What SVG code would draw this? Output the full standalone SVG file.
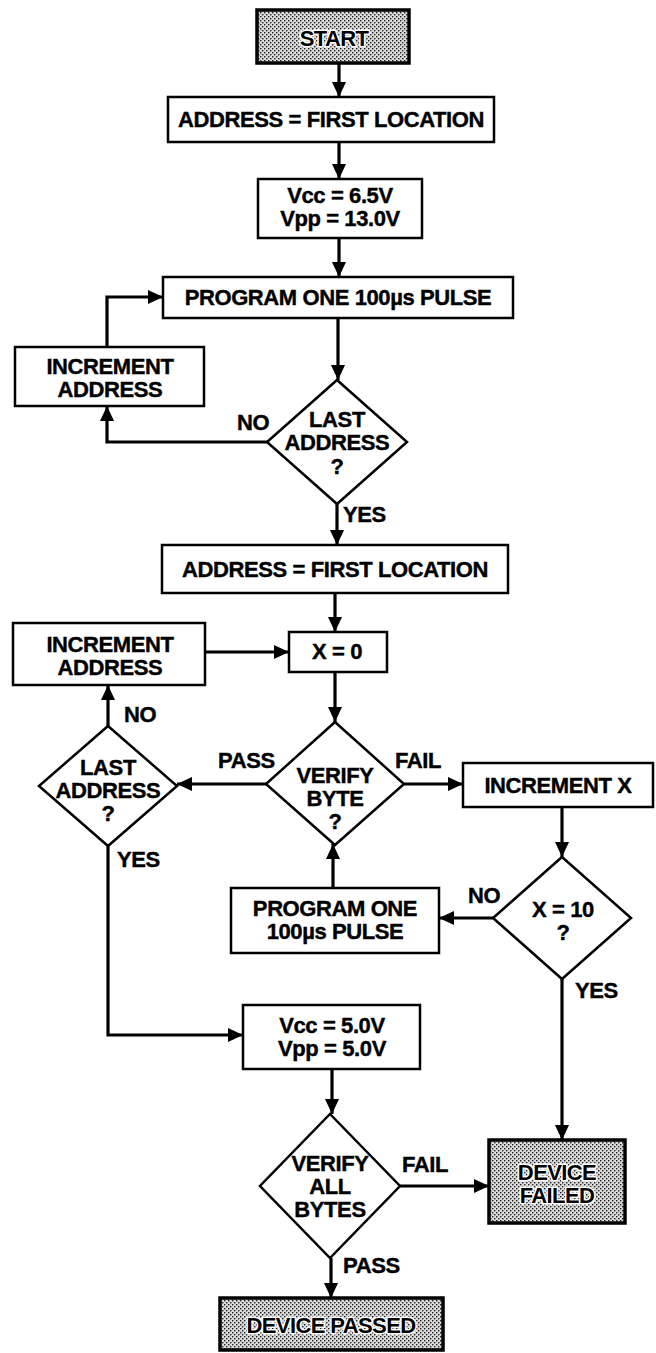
<svg xmlns="http://www.w3.org/2000/svg" width="656" height="1353" viewBox="0 0 656 1353">
<style>
.bg{fill:#ffffff}
.box{fill:#ffffff;stroke:#000;stroke-width:2.5}
.term{fill:url(#dots);stroke:#000;stroke-width:3.5}
.dia{fill:#ffffff;stroke:#000;stroke-width:2.5}
.t{font-family:"Liberation Sans",Arial,Helvetica,sans-serif;font-weight:bold;font-size:22px;fill:#000;stroke:#000;stroke-width:0.4;text-anchor:middle;letter-spacing:-0.4px}
.l{font-family:"Liberation Sans",Arial,Helvetica,sans-serif;font-weight:bold;font-size:22px;fill:#000;stroke:#000;stroke-width:0.4;letter-spacing:-0.4px}
.tt{font-family:"Liberation Sans",Arial,Helvetica,sans-serif;font-weight:bold;font-size:22px;fill:#000;text-anchor:middle;letter-spacing:-0.6px;stroke:#fff;stroke-width:3;paint-order:stroke;stroke-linejoin:round}
.c{fill:none;stroke:#000;stroke-width:3.2;marker-end:url(#ah)}
</style>
<defs>
<pattern id="dots" width="4" height="4" patternUnits="userSpaceOnUse">
<rect width="4" height="4" fill="#dadada"/>
<rect x="0" y="0" width="1.4" height="1.4" fill="#222"/>
<rect x="2" y="2" width="1.4" height="1.4" fill="#222"/>
</pattern>
<marker id="ah" markerUnits="userSpaceOnUse" markerWidth="16" markerHeight="14" refX="15" refY="7" orient="auto">
<path d="M0,0 L15,7 L0,14 Z" fill="#000"/>
</marker>
</defs>
<rect class="bg" x="0" y="0" width="656" height="1353"/>

<g id="connectors">
<path class="c" d="M339,63 V97"/>
<path class="c" d="M339,142 V179"/>
<path class="c" d="M339,238 V277"/>
<path class="c" d="M338,318 V380"/>
<path class="c" d="M267,442 H107 V406"/>
<path class="c" d="M107,347 V297 H163"/>
<path class="c" d="M337,504 V545"/>
<path class="c" d="M335,593 V632"/>
<path class="c" d="M335,672 V722"/>
<path class="c" d="M205,652 H289"/>
<path class="c" d="M266,784 H177"/>
<path class="c" d="M108,726 V685"/>
<path class="c" d="M404,784 H463"/>
<path class="c" d="M562,807 V857"/>
<path class="c" d="M493,918 H439"/>
<path class="c" d="M333,888 V844"/>
<path class="c" d="M562,979 V1140"/>
<path class="c" d="M108,846 V1035 H243"/>
<path class="c" d="M332,1069 V1114"/>
<path class="c" d="M400,1186 H489"/>
<path class="c" d="M331,1258 V1298"/>
<text class="l" x="237" y="430">NO</text>
<text class="l" x="343" y="522">YES</text>
<text class="l" x="124" y="722">NO</text>
<text class="l" x="218" y="768">PASS</text>
<text class="l" x="395" y="768">FAIL</text>
<text class="l" x="117" y="867">YES</text>
<text class="l" x="468" y="903">NO</text>
<text class="l" x="575" y="998">YES</text>
<text class="l" x="402" y="1172">FAIL</text>
<text class="l" x="343" y="1273">PASS</text>
</g>

<g id="start">
<rect class="term" x="257" y="10" width="152" height="53"/>
<text class="tt" x="334" y="46">START</text>
</g>
<g id="addr1">
<rect class="box" x="168" y="97" width="326" height="45"/>
<text class="t" x="331" y="127">ADDRESS = FIRST LOCATION</text>
</g>
<g id="vcc1">
<rect class="box" x="258" y="179" width="164" height="59"/>
<text class="t" x="340" y="203">Vcc = 6.5V</text>
<text class="t" x="340" y="226">Vpp = 13.0V</text>
</g>
<g id="prog1">
<rect class="box" x="163" y="277" width="350" height="41"/>
<text class="t" x="338" y="305">PROGRAM  ONE 100µs PULSE</text>
</g>
<g id="inc1">
<rect class="box" x="15" y="347" width="189" height="59"/>
<text class="t" x="110" y="374">INCREMENT</text>
<text class="t" x="110" y="397">ADDRESS</text>
</g>
<g id="last1">
<polygon class="dia" points="337,380 407,442 337,504 267,442"/>
<text class="t" x="337" y="427">LAST</text>
<text class="t" x="337" y="450">ADDRESS</text>
<text class="t" x="337" y="474">?</text>
</g>
<g id="addr2">
<rect class="box" x="162" y="545" width="346" height="48"/>
<text class="t" x="335" y="577">ADDRESS = FIRST LOCATION</text>
</g>
<g id="x0">
<rect class="box" x="289" y="632" width="98" height="40"/>
<text class="t" x="337" y="659">X = 0</text>
</g>
<g id="inc2">
<rect class="box" x="13" y="623" width="192" height="62"/>
<text class="t" x="110" y="652">INCREMENT</text>
<text class="t" x="110" y="675">ADDRESS</text>
</g>
<g id="verify">
<polygon class="dia" points="335,722 404,784 335,845 266,784"/>
<text class="t" x="335" y="783">VERIFY</text>
<text class="t" x="335" y="806">BYTE</text>
<text class="t" x="335" y="829">?</text>
</g>
<g id="last2">
<polygon class="dia" points="108,726 177,786 108,846 39,786"/>
<text class="t" x="108" y="775">LAST</text>
<text class="t" x="108" y="798">ADDRESS</text>
<text class="t" x="108" y="821">?</text>
</g>
<g id="incx">
<rect class="box" x="463" y="763" width="190" height="44"/>
<text class="t" x="558" y="793">INCREMENT X</text>
</g>
<g id="x10">
<polygon class="dia" points="562,857 631,918 562,979 493,918"/>
<text class="t" x="563" y="917">X = 10</text>
<text class="t" x="563" y="940">?</text>
</g>
<g id="prog2">
<rect class="box" x="231" y="888" width="208" height="65"/>
<text class="t" x="335" y="916">PROGRAM  ONE</text>
<text class="t" x="335" y="939">100µs PULSE</text>
</g>
<g id="vcc2">
<rect class="box" x="243" y="1005" width="177" height="64"/>
<text class="t" x="332" y="1033">Vcc = 5.0V</text>
<text class="t" x="332" y="1056">Vpp = 5.0V</text>
</g>
<g id="verifyall">
<polygon class="dia" points="330,1114 400,1186 330,1258 260,1186"/>
<text class="t" x="330" y="1171">VERIFY</text>
<text class="t" x="330" y="1194">ALL</text>
<text class="t" x="330" y="1217">BYTES</text>
</g>
<g id="failed">
<rect class="term" x="489" y="1140" width="136" height="83"/>
<text class="tt" x="557" y="1180">DEVICE</text>
<text class="tt" x="557" y="1203">FAILED</text>
</g>
<g id="passed">
<rect class="term" x="220" y="1298" width="223" height="52"/>
<text class="tt" x="331" y="1333">DEVICE PASSED</text>
</g>
</svg>
